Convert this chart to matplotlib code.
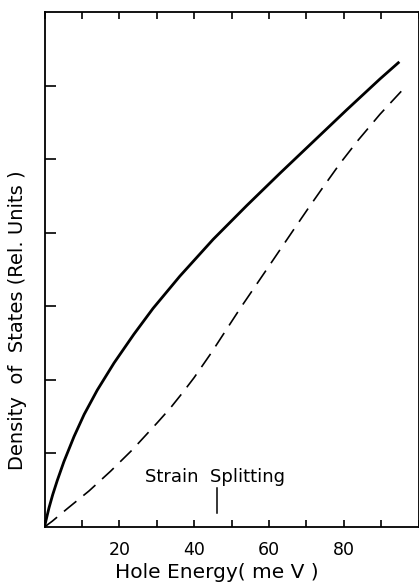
import matplotlib
matplotlib.use("Agg")
import matplotlib.pyplot as plt

# density of states vs hole energy
energy_solid = [0, 0.4, 1.2, 2.2, 3.4, 5.2, 7.9, 10.6, 14.1, 18.6, 23.9, 29.0, 36.2, 45.1,
                54.1, 63.0, 71.9, 80.8, 89.7, 94.6]
dos_solid = [0, 0.09, 0.26, 0.44, 0.63, 0.89, 1.23, 1.53, 1.86, 2.23, 2.62, 2.97, 3.41,
             3.91, 4.37, 4.81, 5.24, 5.67, 6.09, 6.31]

energy_dashed = [0, 2.1, 6.1, 11.9, 17.7, 23.5, 30.2, 33.7, 37.0, 40.0, 44.5, 49.1, 52.3,
                 59.4, 63.4, 67.0, 70.5, 74.5, 79.0, 83.9, 89.7, 95.9]
dos_dashed = [0, 0.08, 0.25, 0.49, 0.76, 1.05, 1.42, 1.62, 1.83, 2.03, 2.36, 2.72, 2.97,
              3.50, 3.80, 4.07, 4.33, 4.62, 4.94, 5.26, 5.61, 5.95]

strain_splitting = 46.2
x_labels = {20: "20", 40: "40", 60: "60", 80: "80"}

plt.rcParams["font.family"] = "DejaVu Sans"
plt.rcParams["lines.scale_dashes"] = False

fig = plt.figure(figsize=(4.19, 5.83), dpi=100)
ax = fig.add_axes([44.5 / 419, 1 - 527 / 583, 374 / 419, 515 / 583])

ax.plot(energy_solid, dos_solid, color="black", lw=2.0, solid_joinstyle="round")
ax.plot(energy_dashed, dos_dashed, color="black", lw=1.2, dashes=(11.5, 6.5))

# strain splitting marker
ax.plot([strain_splitting, strain_splitting], [0.19, 0.53], color="black", lw=1.1)
ax.text(26.9, 0.61, "Strain  Splitting", fontsize=13, ha="left", va="baseline")

ax.set_xlim(0, 100)
ax.set_ylim(0, 7)
ticks = list(range(0, 101, 10))
ax.set_xticks(ticks)
ax.set_xticklabels([x_labels.get(t, "") for t in ticks], fontsize=12.5)
ax.tick_params(axis="x", direction="in", length=5, width=1.2, pad=10,
               top=True, bottom=True)
ax.set_yticks(range(1, 7))
ax.set_yticklabels([])
ax.tick_params(axis="y", direction="in", length=8, width=1.2, left=True, right=False)

for s in ax.spines.values():
    s.set_linewidth(1.3)

fig.text(217 / 419, 1 - 573 / 583, "Hole Energy( me V )", fontsize=14.5,
         ha="center", va="center")
fig.text(18 / 419, 1 - 320 / 583, "Density  of  States (Rel. Units )", fontsize=14,
         rotation=90, ha="center", va="center")

fig.savefig("out.png", dpi=100)
